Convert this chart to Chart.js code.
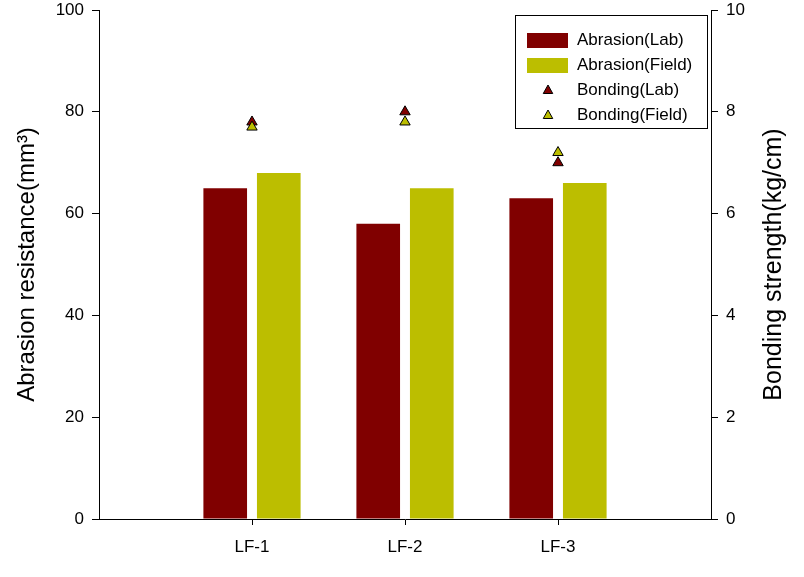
<!DOCTYPE html>
<html>
<head>
<meta charset="utf-8">
<title>Abrasion resistance and bonding strength</title>
<script src="https://cdn.jsdelivr.net/npm/chart.js@4.4.1/dist/chart.umd.min.js"></script>
<style>
  html, body { margin: 0; padding: 0; background: #fff; }
  #wrap { position: relative; width: 804px; height: 577px; }
</style>
</head>
<body>
<div id="wrap"><canvas id="chart"></canvas></div>
<script>
// ----- Data -----
const categories = ['LF-1', 'LF-2', 'LF-3'];
const abrasionLab = [65, 58, 63];
const abrasionField = [68, 65, 66];
const bondingLab = [7.8, 8.0, 7.0];
const bondingField = [7.7, 7.8, 7.2];
const leftTicks = [0, 20, 40, 60, 80, 100];
const rightTicks = [0, 2, 4, 6, 8, 10];

const leftTitle = 'Abrasion resistance(mm\u00B3)';
const rightTitleText = 'Bonding strength(kg/cm)';

// ----- Style -----
const FONT = 'Arial, "Liberation Sans", sans-serif';
const DARK_RED = '#800000';
const OLIVE = '#bcbe00';

// empty slot on each side, like the original x range
const labels = ['', ...categories, ''];
const pad = arr => [null, ...arr, null];

// ----- Legend box drawn inside the plot -----
const boxLegend = {
  id: 'boxLegend',
  afterDraw(chart) {
    const { ctx, chartArea } = chart;
    const right = chartArea.right - 4;
    const left = right - 192;
    const top = chartArea.top + 5;
    const rowH = 25;
    ctx.save();
    ctx.strokeStyle = '#000';
    ctx.lineWidth = 1;
    ctx.strokeRect(left + 0.5, top + 0.5, 192, 113);
    ctx.font = '17px ' + FONT;
    ctx.textBaseline = 'middle';
    ctx.textAlign = 'left';
    chart.data.datasets.forEach((ds, i) => {
      const cy = top + 25 + i * rowH;
      if (ds.type === 'line') {
        const cx = left + 33;
        const r = 5;
        ctx.beginPath();
        ctx.moveTo(cx, cy - r);
        ctx.lineTo(cx + r * 0.95, cy + r * 0.7);
        ctx.lineTo(cx - r * 0.95, cy + r * 0.7);
        ctx.closePath();
        ctx.fillStyle = ds.pointBackgroundColor;
        ctx.fill();
        ctx.strokeStyle = '#000';
        ctx.stroke();
      } else {
        ctx.fillStyle = ds.backgroundColor;
        ctx.fillRect(left + 12, cy - 7, 41, 15);
      }
      ctx.fillStyle = '#000';
      ctx.fillText(ds.label, left + 62, cy);
    });
    ctx.restore();
  }
};

// ----- Right axis title, reads bottom to top -----
const rightTitle = {
  id: 'rightTitle',
  afterDraw(chart) {
    const { ctx, chartArea } = chart;
    ctx.save();
    ctx.translate(chart.width - 30, (chartArea.top + chartArea.bottom) / 2);
    ctx.rotate(-Math.PI / 2);
    ctx.font = '25px ' + FONT;
    ctx.fillStyle = '#000';
    ctx.textAlign = 'center';
    ctx.textBaseline = 'middle';
    ctx.fillText(rightTitleText, 0, 0);
    ctx.restore();
  }
};

const tickFont = { family: FONT, size: 17 };

// fixed axis sizes so the plot area sits where the original one does
const fitY = width => s => {
  s.width = width;
  s.paddingTop = 0;
  s.paddingBottom = 0;
};

new Chart(document.getElementById('chart'), {
  type: 'bar',
  data: {
    labels: labels,
    datasets: [
      {
        label: 'Abrasion(Lab)',
        data: pad(abrasionLab),
        backgroundColor: DARK_RED,
        yAxisID: 'y',
        order: 2,
        categoryPercentage: 0.70,
        barPercentage: 0.815,
      },
      {
        label: 'Abrasion(Field)',
        data: pad(abrasionField),
        backgroundColor: OLIVE,
        yAxisID: 'y',
        order: 2,
        categoryPercentage: 0.70,
        barPercentage: 0.815,
      },
      {
        type: 'line',
        label: 'Bonding(Lab)',
        data: pad(bondingLab),
        yAxisID: 'y2',
        showLine: false,
        pointStyle: 'triangle',
        pointRadius: 6,
        pointBackgroundColor: DARK_RED,
        pointBorderColor: '#000',
        pointBorderWidth: 1,
        order: 1,
      },
      {
        type: 'line',
        label: 'Bonding(Field)',
        data: pad(bondingField),
        yAxisID: 'y2',
        showLine: false,
        pointStyle: 'triangle',
        pointRadius: 6,
        pointBackgroundColor: OLIVE,
        pointBorderColor: '#000',
        pointBorderWidth: 1,
        order: 0,
      },
    ]
  },
  options: {
    responsive: true,
    maintainAspectRatio: false,
    animation: false,
    layout: { padding: { top: 10, left: 0, right: 0, bottom: 0 } },
    plugins: {
      legend: { display: false },
      tooltip: { enabled: false },
    },
    scales: {
      x: {
        type: 'category',
        offset: false,
        grid: {
          offset: false,
          drawOnChartArea: false,
          tickLength: 6,
          color: c => (c.tick && c.tick.label ? '#000' : 'rgba(0,0,0,0)'),
        },
        border: { color: '#000', width: 1 },
        ticks: { font: tickFont, color: '#000', padding: 12, maxRotation: 0, autoSkip: false },
        afterFit: s => { s.height = 58; },
      },
      y: {
        position: 'left',
        min: leftTicks[0],
        max: leftTicks[leftTicks.length - 1],
        ticks: { stepSize: leftTicks[1] - leftTicks[0], font: tickFont, color: '#000', padding: 8 },
        grid: { drawOnChartArea: false, tickLength: 7, color: '#000' },
        border: { color: '#000', width: 1 },
        title: {
          display: true,
          text: leftTitle,
          font: { family: FONT, size: 24 },
          color: '#000',
          padding: { top: 13, bottom: 0 },
        },
        afterFit: fitY(99),
      },
      y2: {
        position: 'right',
        min: rightTicks[0],
        max: rightTicks[rightTicks.length - 1],
        ticks: { stepSize: rightTicks[1] - rightTicks[0], font: tickFont, color: '#000', padding: 8 },
        grid: { drawOnChartArea: false, tickLength: 7, color: '#000' },
        border: { color: '#000', width: 1 },
        afterFit: fitY(93),
      },
    }
  },
  plugins: [boxLegend, rightTitle],
});
</script>
</body>
</html>
